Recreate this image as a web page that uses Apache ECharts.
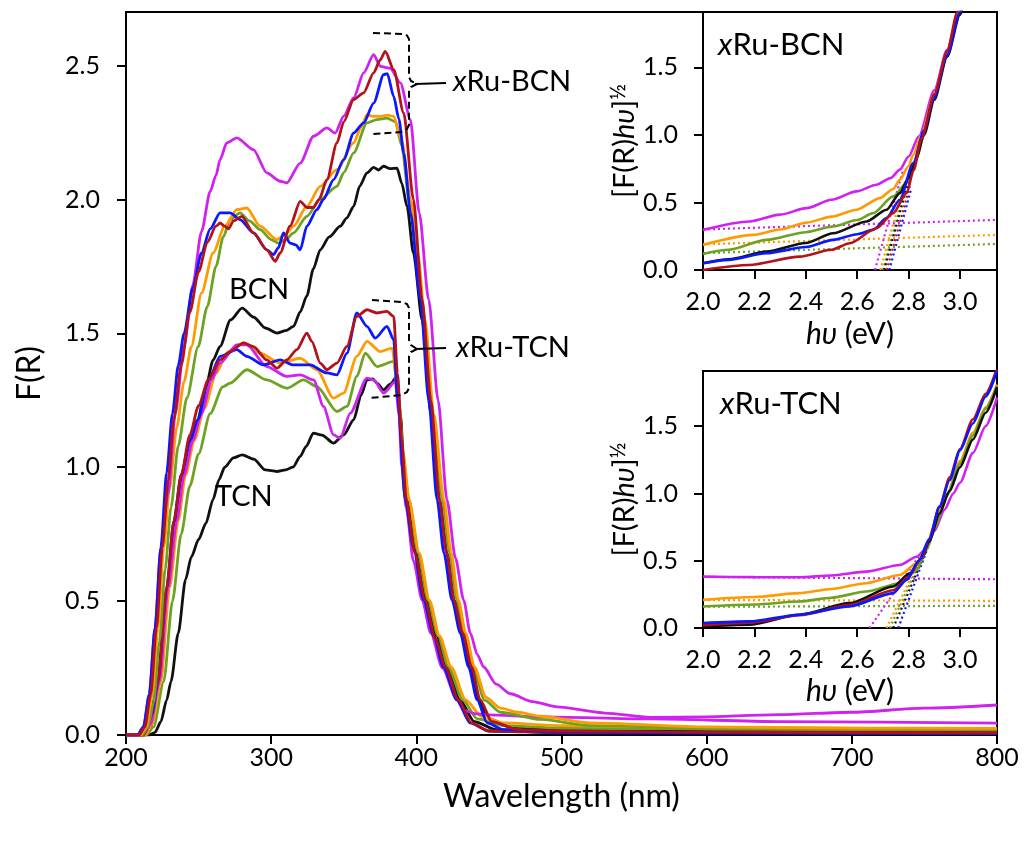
<!DOCTYPE html>
<html>
<head>
<meta charset="utf-8">
<script src="https://cdn.jsdelivr.net/npm/echarts@6/dist/echarts.min.js"></script>
<style>
html,body{margin:0;padding:0;background:#fff;}
#c{width:1026px;height:845px;}
</style>
</head>
<body>
<div id="c"></div>
<script>
// ---------- Main plot data: [wavelength (nm), F(R)] ----------
const bcnBlack = [[200,0],[213,0],[217,0.03],[221,0.15],[226,0.4],[231,0.65],[236,0.88],[241,1.02],[249.4,1.177],[255,1.3],[260,1.4],[264.8,1.451],[272,1.55],[280,1.594],[288,1.56],[296,1.52],[304,1.501],[310,1.51],[315.4,1.526],[320,1.58],[324.6,1.64],[329,1.74],[333.8,1.812],[340,1.86],[347.6,1.9],[352,1.93],[356.8,1.974],[361,2.05],[366,2.099],[370.6,2.12],[374,2.11],[377.5,2.124],[382,2.115],[386.7,2.117],[390,2.06],[393.6,1.974],[398,1.8],[404,1.55],[410,1.2],[416,0.878],[421,0.68],[426,0.504],[431,0.38],[437,0.254],[443,0.13],[450,0.06],[465,0.03],[500,0.018],[600,0.012],[800,0.01]];
const bcnRed = [[200,0],[209,0],[213,0.03],[217,0.15],[221,0.4],[225,0.7],[229,0.95],[233,1.18],[238,1.38],[244,1.58],[250,1.73],[256,1.84],[262,1.9],[264.8,1.912],[268,1.9],[270.6,1.89],[274,1.92],[279.8,1.937],[287.8,1.875],[297,1.812],[302.8,1.769],[306.2,1.8],[313,1.9],[320,1.993],[324.6,1.97],[329,1.97],[333,2.0],[338.4,2.074],[345.3,2.211],[350,2.29],[356.8,2.373],[363.7,2.398],[370.6,2.473],[375,2.52],[378.6,2.553],[384.4,2.485],[391.3,2.323],[398,2.0],[404,1.626],[410,1.25],[416,0.878],[421,0.68],[426,0.504],[432,0.38],[438,0.254],[444,0.131],[452,0.05],[470,0.02],[500,0.015],[600,0.01],[800,0.008]];
const bcnBlue = [[200,0],[208,0],[212,0.03],[216,0.15],[220,0.4],[224,0.7],[228,0.98],[232,1.2],[236,1.38],[240,1.5],[246,1.67],[252,1.8],[258,1.89],[264.8,1.95],[271.7,1.95],[278.6,1.925],[287.8,1.875],[297,1.812],[301.6,1.794],[305,1.82],[308.5,1.875],[313,1.837],[317,1.83],[320,1.812],[324.6,1.9],[331.5,1.962],[336,2.0],[343,2.074],[350,2.149],[356.8,2.248],[363.7,2.286],[370.6,2.36],[377.5,2.466],[380,2.47],[384.4,2.385],[388,2.3],[391.3,2.173],[396,1.95],[402.8,1.626],[408.5,1.252],[414.3,0.878],[419,0.68],[424.6,0.504],[430.3,0.38],[436,0.254],[441.9,0.131],[448.8,0.045],[460,0.02],[500,0.012],[600,0.008],[800,0.006]];
const bcnOrange = [[200,0],[210,0],[214,0.03],[218,0.15],[222,0.4],[226,0.7],[230,0.92],[235,1.15],[240,1.32],[245,1.45],[252,1.65],[260,1.8],[268,1.9],[276.3,1.962],[283.2,1.968],[292.4,1.9],[304,1.85],[310,1.87],[315.4,1.9],[324.6,1.974],[333.8,2.049],[345.3,2.111],[356.8,2.211],[362,2.27],[366,2.317],[370,2.31],[375.2,2.31],[380,2.315],[384.4,2.31],[390,2.22],[396,2.0],[401,1.8],[406,1.55],[412,1.2],[419,0.878],[424,0.68],[429,0.504],[434,0.38],[440,0.254],[448,0.14],[458,0.1],[470,0.085],[485.5,0.07],[520,0.045],[600,0.03],[700,0.026],[800,0.025]];
const bcnGreen = [[200,0],[211,0],[215,0.03],[219,0.12],[223,0.35],[227,0.62],[231,0.85],[236,1.08],[242,1.26],[249.7,1.45],[256,1.6],[262,1.75],[267,1.86],[271.7,1.925],[278.6,1.95],[285,1.92],[292.4,1.887],[300,1.85],[305,1.837],[310,1.85],[315.4,1.875],[324.6,1.937],[333.8,2.0],[345.3,2.049],[350,2.1],[356.8,2.174],[366,2.286],[372.9,2.298],[379.8,2.304],[385.5,2.29],[390,2.2],[395,2.0],[401,1.75],[406,1.5],[412,1.15],[418,0.878],[423,0.68],[428,0.504],[433,0.38],[439,0.254],[447,0.13],[458,0.085],[485.5,0.058],[520,0.035],[600,0.024],[800,0.019]];
const bcnMagenta = [[200,0],[208,0],[212,0.03],[216,0.15],[220,0.4],[224,0.7],[229,0.9],[234,1.2],[240,1.45],[246,1.68],[252,1.88],[258,2.03],[262,2.09],[264.8,2.149],[269.4,2.211],[276.3,2.23],[287.8,2.186],[297,2.099],[306.2,2.068],[310.8,2.062],[320,2.136],[329.2,2.236],[338.4,2.267],[344.1,2.248],[350,2.311],[356.8,2.379],[363.7,2.473],[370.6,2.541],[375.2,2.497],[382.1,2.49],[389,2.435],[395.9,2.298],[402,1.95],[408.5,1.626],[415,1.25],[421.1,0.878],[427,0.66],[432.6,0.504],[437.2,0.38],[442,0.3],[446.4,0.254],[455,0.19],[464.8,0.154],[480,0.125],[497,0.105],[530,0.082],[561,0.066],[600,0.068],[650,0.076],[700,0.085],[750,0.1],[800,0.112]];
const tcnBlack = [[200,0],[216,0],[220,0.01],[224,0.05],[228,0.13],[231,0.2],[236,0.38],[241,0.58],[245,0.665],[250,0.73],[255,0.79],[260,0.88],[264,0.953],[268,1.0],[274,1.035],[280,1.046],[288,1.03],[296,0.99],[304,0.984],[310,0.99],[315,1.0],[320,1.04],[324,1.077],[329,1.127],[335,1.12],[343,1.09],[350,1.121],[356.8,1.177],[362,1.27],[366,1.326],[370,1.33],[372.9,1.314],[377.5,1.289],[382,1.31],[386.7,1.339],[389,1.2],[392,0.95],[395,0.85],[401,0.66],[407,0.504],[414,0.37],[421,0.254],[430,0.131],[440,0.05],[455,0.02],[500,0.012],[800,0.01]];
const tcnRed = [[200,0],[212,0],[216,0.05],[222,0.2],[228,0.55],[233,0.8],[238,0.97],[244,1.12],[250,1.23],[257,1.33],[264.8,1.401],[271.7,1.432],[281,1.464],[287.8,1.45],[297,1.401],[304,1.37],[310.8,1.401],[317.7,1.439],[324.6,1.501],[328,1.47],[333.8,1.389],[338.4,1.364],[345.3,1.389],[352.2,1.451],[359,1.563],[366,1.588],[372.9,1.576],[379.8,1.582],[384.4,1.563],[387,1.35],[390,1.1],[393,0.88],[399,0.68],[406,0.504],[413,0.36],[420,0.254],[429,0.131],[438,0.045],[450,0.015],[500,0.01],[800,0.008]];
const tcnBlue = [[200,0],[211,0],[214,0.03],[218,0.08],[222,0.2],[228,0.55],[233,0.8],[238,0.97],[244,1.1],[249.4,1.177],[257,1.327],[264.8,1.414],[276.3,1.439],[283.2,1.414],[294.7,1.382],[306.2,1.401],[315.4,1.382],[326.9,1.382],[338.4,1.352],[345.3,1.345],[352.2,1.426],[359,1.576],[366,1.526],[371.7,1.482],[379.8,1.526],[384.4,1.476],[387,1.26],[392.4,0.878],[398,0.7],[405,0.504],[412,0.37],[418.6,0.254],[428,0.131],[437,0.045],[450,0.015],[500,0.008],[800,0.005]];
const tcnOrange = [[200,0],[213,0],[218,0.04],[224,0.2],[230,0.55],[236,0.8],[241,0.97],[247,1.1],[254,1.22],[262,1.35],[270,1.43],[281,1.464],[292.4,1.426],[306.2,1.389],[320,1.407],[331.5,1.364],[343,1.258],[349.9,1.277],[359,1.414],[366,1.47],[375.2,1.432],[383.3,1.445],[387,1.3],[391,1.05],[395,0.878],[402,0.68],[409,0.504],[416,0.37],[424,0.254],[434,0.131],[445,0.07],[460,0.045],[500,0.035],[600,0.028],[800,0.022]];
const tcnGreen = [[200,0],[214,0],[219,0.03],[226,0.2],[232,0.5],[238,0.75],[244,0.93],[250,1.05],[258,1.2],[266.7,1.3],[271.7,1.314],[283.2,1.364],[297,1.326],[310.8,1.295],[322.3,1.326],[331.5,1.301],[345.3,1.208],[352.2,1.227],[359,1.339],[364.8,1.426],[372.9,1.376],[384.4,1.395],[388,1.25],[391,1.02],[395,0.878],[401,0.68],[408,0.504],[415,0.37],[422,0.254],[432,0.131],[442,0.06],[460,0.035],[500,0.025],[800,0.018]];
const tcnMagenta = [[200,0],[212,0],[217,0.04],[223,0.2],[229,0.55],[235,0.8],[240,0.97],[246,1.1],[252,1.2],[259,1.327],[264.8,1.389],[276.3,1.457],[283.2,1.457],[297,1.376],[310.8,1.339],[320,1.345],[329.2,1.326],[336,1.227],[343,1.121],[347.6,1.108],[354.5,1.202],[366,1.333],[370.6,1.326],[377.5,1.277],[385.5,1.32],[388,1.2],[390,1.0],[393,0.85],[398,0.65],[404,0.504],[410,0.38],[418,0.25],[428,0.131],[432.6,0.093],[440,0.08],[448.8,0.075],[485.5,0.068],[560,0.06],[650,0.05],[800,0.044]];

// ---------- Inset 1 (xRu-BCN): [hv (eV), (F(R)hv)^1/2] ----------
const i1Black = [[2.0,0.05],[2.1,0.08],[2.247,0.136],[2.4,0.2],[2.506,0.272],[2.636,0.359],[2.714,0.446],[2.766,0.569],[2.8,0.68],[2.83,0.82],[2.86,1.0],[2.9,1.26],[2.95,1.58],[3.0,1.89],[3.02,2.0]];
const i1Red = [[2.0,0.0],[2.18,0.037],[2.377,0.099],[2.5,0.15],[2.571,0.198],[2.675,0.309],[2.74,0.421],[2.792,0.569],[2.82,0.74],[2.85,0.97],[2.9,1.3],[2.95,1.62],[2.99,1.91],[3.02,2.1]];
const i1Blue = [[2.0,0.05],[2.1,0.075],[2.247,0.124],[2.4,0.17],[2.506,0.223],[2.6,0.265],[2.662,0.297],[2.714,0.384],[2.766,0.52],[2.818,0.792],[2.86,1.03],[2.896,1.262],[2.95,1.59],[3.0,1.906],[3.02,2.02]];
const i1Orange = [[2.0,0.186],[2.195,0.26],[2.3,0.3],[2.403,0.351],[2.5,0.395],[2.597,0.446],[2.688,0.532],[2.74,0.6],[2.766,0.668],[2.8,0.77],[2.818,0.854],[2.85,1.0],[2.9,1.3],[2.95,1.61],[2.998,1.91],[3.02,2.03]];
const i1Green = [[2.0,0.119],[2.1,0.15],[2.247,0.223],[2.4,0.28],[2.506,0.322],[2.6,0.37],[2.662,0.421],[2.74,0.545],[2.792,0.644],[2.82,0.76],[2.85,0.97],[2.9,1.28],[2.95,1.6],[3.0,1.91],[3.02,2.02]];
const i1Magenta = [[2.0,0.297],[2.18,0.359],[2.3,0.41],[2.403,0.458],[2.5,0.52],[2.597,0.582],[2.675,0.631],[2.73,0.68],[2.766,0.743],[2.8,0.84],[2.84,0.99],[2.9,1.33],[2.95,1.63],[2.995,1.91],[3.02,2.05]];
// tangent (dotted) fit lines, inset 1
const i1FitMagenta = [[2.669,0],[2.78,0.75]];
const i1FitOrange = [[2.69,0],[2.79,0.68]];
const i1FitGreen = [[2.70,0],[2.795,0.66]];
const i1FitBlack = [[2.705,0],[2.80,0.66]];
const i1FitRed = [[2.715,0],[2.805,0.62]];
const i1FitBlue = [[2.725,0],[2.81,0.6]];
const i1BaseMagenta = [[2.0,0.3],[3.144,0.371]];
const i1BaseOrange = [[2.0,0.19],[3.144,0.26]];
const i1BaseGreen = [[2.0,0.125],[3.144,0.193]];

// ---------- Inset 2 (xRu-TCN) ----------
const i2Black = [[2.0,0.012],[2.18,0.025],[2.375,0.099],[2.57,0.185],[2.74,0.308],[2.805,0.406],[2.85,0.52],[2.88,0.64],[2.92,0.85],[2.96,1.02],[3.0,1.195],[3.05,1.4],[3.1,1.6],[3.144,1.79]];
const i2Red = [[2.0,0.02],[2.18,0.04],[2.375,0.095],[2.57,0.17],[2.74,0.28],[2.8,0.38],[2.85,0.52],[2.88,0.66],[2.92,0.9],[2.96,1.12],[3.0,1.33],[3.05,1.55],[3.1,1.74],[3.144,1.93]];
const i2Blue = [[2.0,0.037],[2.18,0.049],[2.375,0.099],[2.57,0.16],[2.74,0.259],[2.792,0.357],[2.84,0.5],[2.88,0.66],[2.92,0.9],[2.96,1.1],[3.0,1.32],[3.05,1.52],[3.1,1.72],[3.144,1.91]];
const i2Orange = [[2.0,0.209],[2.2,0.23],[2.375,0.259],[2.5,0.29],[2.635,0.333],[2.766,0.394],[2.831,0.48],[2.87,0.6],[2.896,0.751],[2.95,1.0],[3.0,1.24],[3.05,1.45],[3.1,1.64],[3.144,1.81]];
const i2Green = [[2.0,0.16],[2.2,0.175],[2.375,0.197],[2.5,0.225],[2.635,0.271],[2.766,0.333],[2.831,0.431],[2.87,0.58],[2.9,0.74],[2.95,0.99],[3.0,1.22],[3.05,1.43],[3.1,1.63],[3.144,1.8]];
const i2Magenta = [[2.0,0.382],[2.2,0.378],[2.375,0.377],[2.5,0.39],[2.635,0.419],[2.766,0.468],[2.831,0.53],[2.87,0.59],[2.9,0.72],[2.94,0.88],[2.974,1.0],[3.0,1.08],[3.05,1.3],[3.1,1.5],[3.144,1.712]];
const i2FitMagenta = [[2.648,0],[2.85,0.56]];
const i2FitOrange = [[2.714,0],[2.86,0.57]];
const i2FitGreen = [[2.727,0],[2.865,0.58]];
const i2FitBlack = [[2.74,0],[2.87,0.58]];
const i2FitBlue = [[2.76,0],[2.875,0.6]];
const i2BaseMagenta = [[2.0,0.38],[3.144,0.362]];
const i2BaseOrange = [[2.0,0.208],[3.144,0.202]];
const i2BaseGreen = [[2.0,0.158],[3.144,0.165]];

// ---------- Axis ticks ----------
const mainXTicks = [200,300,400,500,600,700,800];
const mainYTicks = [0,0.5,1.0,1.5,2.0,2.5];
const insetXTicks = [2.0,2.2,2.4,2.6,2.8,3.0];
const insetYTicks = [0,0.5,1.0,1.5];

// ---------- Styling ----------
const C = {black:'#111111', red:'#b3121a', blue:'#0a17ff', orange:'#ff9a00', green:'#6ea222', magenta:'#cf22f0'};
const FONT = 'Lato';

function curve(data, color, idx, w) {
  return {type:'line', data:data, xAxisIndex:idx, yAxisIndex:idx, symbol:'none', showSymbol:false,
    smooth:0.25, smoothMonotone:'x', clip:true, silent:true, animation:false,
    lineStyle:{color:color, width:w||2.8}, itemStyle:{color:color}};
}
function dotted(data, color, idx) {
  return {type:'line', data:data, xAxisIndex:idx, yAxisIndex:idx, symbol:'none', showSymbol:false,
    clip:true, silent:true, animation:false, z:1,
    lineStyle:{color:color, width:2.2, type:[2,3]}};
}
function xAx(gi, min, max, ticks, fs, margin, name, nfs, gap) {
  return {type:'value', gridIndex:gi, min:min, max:max,
    axisLine:{show:true, onZero:false, lineStyle:{color:'#000', width:2}},
    axisTick:{show:true, inside:false, length:9, lineStyle:{color:'#000', width:2}, customValues:ticks},
    axisLabel:{color:'#000', fontSize:fs, fontFamily:FONT, margin:margin, customValues:ticks,
      formatter:function(v){return gi===0 ? String(Math.round(v)) : v.toFixed(1);}},
    splitLine:{show:false},
    name:name, nameLocation:'middle', nameGap:gap,
    nameTextStyle:{color:'#000', fontSize:nfs, fontFamily:FONT,
      rich:{i:{fontStyle:'italic', fontSize:nfs, fontFamily:FONT, color:'#000'}}}};
}
function yAx(gi, min, max, ticks, fs, margin, name, nfs, gap) {
  return {type:'value', gridIndex:gi, min:min, max:max,
    axisLine:{show:true, onZero:false, lineStyle:{color:'#000', width:2}},
    axisTick:{show:true, inside:false, length:9, lineStyle:{color:'#000', width:2}, customValues:ticks},
    axisLabel:{color:'#000', fontSize:fs, fontFamily:FONT, margin:margin, customValues:ticks,
      formatter:function(v){return v.toFixed(1);}},
    splitLine:{show:false},
    name:name, nameLocation:'middle', nameGap:gap, nameRotate:90,
    nameTextStyle:{color:'#000', fontSize:nfs, fontFamily:FONT,
      rich:{i:{fontStyle:'italic', fontSize:nfs, fontFamily:FONT, color:'#000'},
            s:{fontSize:Math.round(nfs*0.75), fontFamily:FONT, color:'#000', verticalAlign:'top', lineHeight:nfs+6}}}};
}

const chart = echarts.init(document.getElementById('c'), null, {renderer:'canvas'});
const series = [
  curve(bcnBlack, C.black, 0), curve(tcnBlack, C.black, 0),
  curve(tcnGreen, C.green, 0), curve(tcnOrange, C.orange, 0), curve(tcnMagenta, C.magenta, 0),
  curve(tcnBlue, C.blue, 0), curve(tcnRed, C.red, 0),
  curve(bcnGreen, C.green, 0), curve(bcnOrange, C.orange, 0), curve(bcnMagenta, C.magenta, 0),
  curve(bcnBlue, C.blue, 0), curve(bcnRed, C.red, 0),

  dotted(i1BaseMagenta, C.magenta, 1), dotted(i1BaseOrange, C.orange, 1), dotted(i1BaseGreen, C.green, 1),
  dotted(i1FitMagenta, C.magenta, 1), dotted(i1FitOrange, C.orange, 1), dotted(i1FitGreen, C.green, 1),
  dotted(i1FitBlack, C.black, 1), dotted(i1FitRed, C.red, 1), dotted(i1FitBlue, C.blue, 1),
  curve(i1Magenta, C.magenta, 1, 2.6), curve(i1Orange, C.orange, 1, 2.6), curve(i1Green, C.green, 1, 2.6),
  curve(i1Black, C.black, 1, 2.6), curve(i1Blue, C.blue, 1, 2.6), curve(i1Red, C.red, 1, 2.6),

  dotted(i2BaseMagenta, C.magenta, 2), dotted(i2BaseOrange, C.orange, 2), dotted(i2BaseGreen, C.green, 2),
  dotted(i2FitMagenta, C.magenta, 2), dotted(i2FitOrange, C.orange, 2), dotted(i2FitGreen, C.green, 2),
  dotted(i2FitBlack, C.black, 2), dotted(i2FitBlue, C.blue, 2),
  curve(i2Magenta, C.magenta, 2, 2.6), curve(i2Orange, C.orange, 2, 2.6), curve(i2Green, C.green, 2, 2.6),
  curve(i2Black, C.black, 2, 2.6), curve(i2Red, C.red, 2, 2.6), curve(i2Blue, C.blue, 2, 2.6)
];

const dash = {stroke:'#000', lineWidth:2, lineDash:[7,4], fill:null};
const solid = {stroke:'#000', lineWidth:2, fill:null};
function pl(points, style) {
  return {type:'polyline', silent:true, z:100, shape:{points:points}, style:style};
}
const labelStyle = (t, x, y, fs) => ({type:'text', x:x, y:y, silent:true, z:100,
  style:{text:t, fontSize:fs, fontFamily:FONT, fill:'#000', align:'left', verticalAlign:'middle',
    rich:{i:{fontStyle:'italic', fontSize:fs, fontFamily:FONT, fill:'#000'}}}});

chart.setOption({
  animation:false,
  backgroundColor:'#fff',
  grid:[
    {left:126, top:12, width:871, height:723, show:true, borderColor:'#000', borderWidth:2, backgroundColor:'transparent'},
    {left:703, top:12, width:294, height:258, show:true, borderColor:'#000', borderWidth:2, backgroundColor:'#fff'},
    {left:703, top:371, width:294, height:257, show:true, borderColor:'#000', borderWidth:2, backgroundColor:'#fff'}
  ],
  xAxis:[
    xAx(0, 200, 800, mainXTicks, 25, 10, 'Wavelength (nm)', 32, 46),
    xAx(1, 2.0, 3.144, insetXTicks, 25, 19, '{i|hυ} (eV)', 30, 49),
    xAx(2, 2.0, 3.144, insetXTicks, 25, 19, '{i|hυ} (eV)', 30, 48)
  ],
  yAxis:[
    yAx(0, 0, 2.7, mainYTicks, 25, 26, 'F(R)', 32, 80),
    yAx(1, 0, 1.91, insetYTicks, 25, 25, '[F(R){i|hυ}]{s|½}', 29, 56),
    yAx(2, 0, 1.91, insetYTicks, 25, 25, '[F(R){i|hυ}]{s|½}', 29, 56)
  ],
  series:series,
  graphic:[
    pl([[373,33],[403,34],[407,35.5],[409,39],[409,77],[411,81],[417,84]], dash),
    pl([[417,84],[411,87],[409,91],[409,125],[407,129],[401,132],[372,134]], dash),
    pl([[415,84],[446,83]], solid),
    pl([[372,300],[402,302],[407,304],[409,308],[409,340],[411,345],[417,349]], dash),
    pl([[417,349],[411,352],[409,356],[409,388],[407,392],[402,395],[370,398]], dash),
    pl([[415,349],[446,348]], solid),
    labelStyle('{i|x}Ru-BCN', 453, 82, 29),
    labelStyle('{i|x}Ru-TCN', 456, 348, 29),
    labelStyle('BCN', 229, 290, 29),
    labelStyle('TCN', 215, 497, 29),
    labelStyle('{i|x}Ru-BCN', 718, 45, 31),
    labelStyle('{i|x}Ru-TCN', 720, 404, 31)
  ]
});
</script>
</body>
</html>
